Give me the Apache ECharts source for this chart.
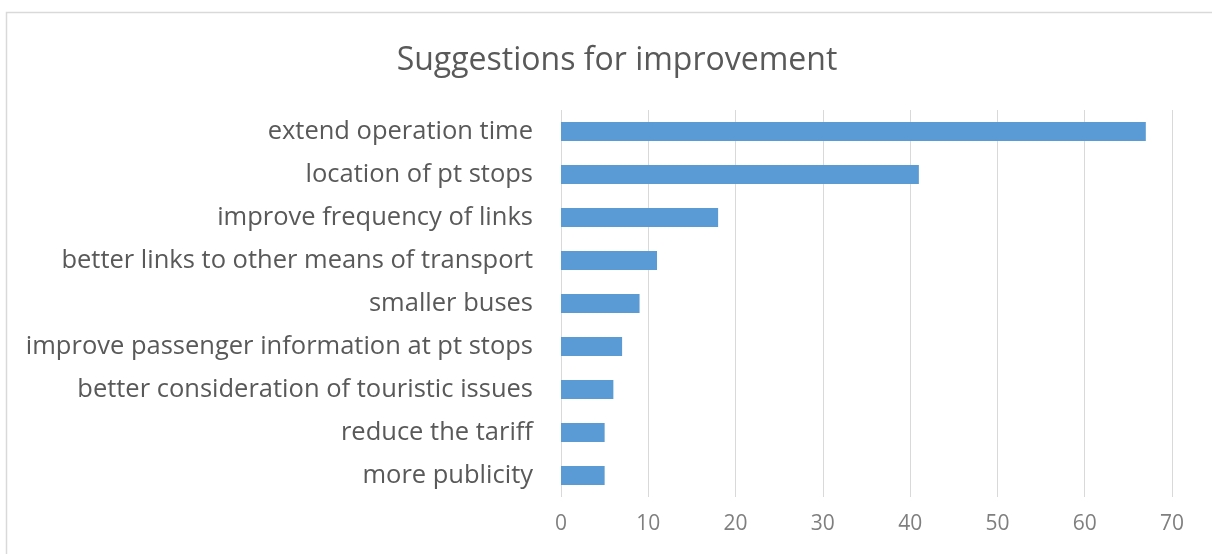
<!DOCTYPE html>
<html>
<head>
<meta charset="utf-8">
<script src="https://cdn.jsdelivr.net/npm/echarts@6/dist/echarts.min.js"></script>
<style>
html,body{margin:0;padding:0;background:#fff;}
#chart{width:1212px;height:554px;}
</style>
</head>
<body>
<div id="chart"></div>
<script>
const title = 'Suggestions for improvement';
const categories = [
  'extend operation time',
  'location of pt stops',
  'improve frequency of links',
  'better links to other means of transport',
  'smaller buses',
  'improve passenger information at pt stops',
  'better consideration of touristic issues',
  'reduce the tariff',
  'more publicity'
];
const values = [67, 41, 18, 11, 9, 7, 6, 5, 5];
const xMin = 0, xMax = 70, xInterval = 10;

const chart = echarts.init(document.getElementById('chart'), null, {renderer: 'canvas'});
chart.setOption({
  backgroundColor: '#ffffff',
  animation: false,
  graphic: [{
    type: 'rect',
    shape: {x: 6.5, y: 12.5, width: 1240, height: 600},
    style: {fill: 'none', stroke: '#d9d9d9', lineWidth: 1.5},
    silent: true
  }],
  title: {
    text: title,
    left: 612,
    textAlign: 'center',
    top: 40,
    textStyle: {fontFamily: 'Open Sans', fontSize: 32, fontWeight: 'normal', color: '#595959'}
  },
  grid: {left: 561, right: 40, top: 110, bottom: 57},
  xAxis: {
    type: 'value',
    min: xMin, max: xMax, interval: xInterval,
    axisLine: {show: false},
    axisTick: {show: false},
    splitLine: {show: true, lineStyle: {color: '#d9d9d9', width: 1}},
    axisLabel: {fontFamily: 'Open Sans', fontSize: 21, color: '#7f7f7f', margin: 17}
  },
  yAxis: {
    type: 'category',
    inverse: true,
    data: categories,
    axisLine: {show: false},
    axisTick: {show: false},
    axisLabel: {fontFamily: 'Open Sans', fontSize: 25.5, color: '#595959', margin: 28}
  },
  series: [{
    type: 'bar',
    data: values,
    barWidth: 19,
    itemStyle: {color: '#5b9bd5'}
  }]
});
</script>
</body>
</html>
